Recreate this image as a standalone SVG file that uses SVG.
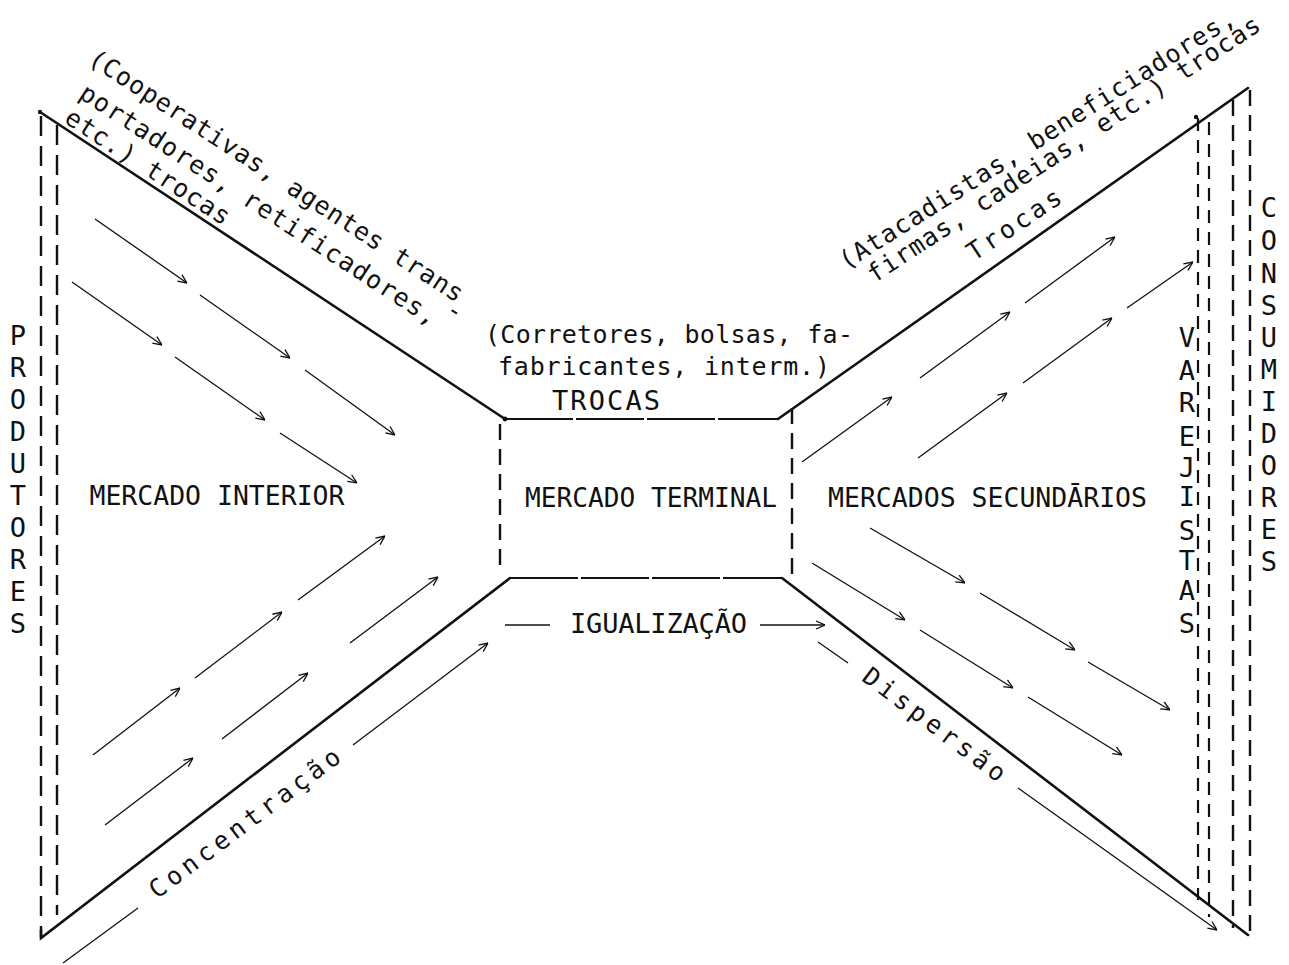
<svg xmlns="http://www.w3.org/2000/svg" width="1289" height="965" viewBox="0 0 1289 965">
<style>
  .t{font-family:"DejaVu Sans Mono","Liberation Mono",monospace;fill:#111}
  .cap{font-size:27px}
  .low{font-size:25px}
  .edge{stroke:#111;stroke-width:2.6;fill:none;stroke-linecap:round}
  .dash{stroke:#111;stroke-width:2.4;fill:none;stroke-dasharray:20 10}
  .dash2{stroke:#111;stroke-width:2.2;fill:none;stroke-dasharray:13 9}
  .boxline{stroke:#111;stroke-width:2.2;fill:none;stroke-dasharray:68 3}
  .flow{stroke:#111;stroke-width:1.3;fill:none;marker-end:url(#ah)}
  .plain{stroke:#111;stroke-width:1.3;fill:none}
</style>
<defs>
  <marker id="ah" viewBox="0 0 10 10" refX="10" refY="5" markerWidth="10" markerHeight="10" markerUnits="userSpaceOnUse" orient="auto">
    <path d="M1,1 L10,5 L1,9" fill="none" stroke="#111" stroke-width="1.3"/>
  </marker>
</defs>
<rect width="1289" height="965" fill="#fff"/>

<!-- producers column -->
<g id="produtores">
  <line class="dash" x1="41" y1="116" x2="41" y2="937"/>
  <line class="dash" x1="57" y1="125" x2="57" y2="915"/>
  <circle cx="40" cy="112" r="2.2" fill="#111"/>
  <text class="t cap" text-anchor="middle" x="18 18 18 18 18 18 18 18 18 18" y="345 377 409 441 473 505 537 569 601 633">PRODUTORES</text>
</g>

<!-- interior market (left funnel) -->
<g id="mercado-interior">
  <line class="edge" x1="40" y1="112" x2="505" y2="419"/>
  <polyline class="edge" points="41,930 41,938 510,578"/>
  <text class="t cap" x="217" y="505" text-anchor="middle" textLength="255" lengthAdjust="spacingAndGlyphs">MERCADO INTERIOR</text>
  <g transform="translate(275.5 177) rotate(33)">
    <text class="t low" x="0" y="7" text-anchor="middle" textLength="441" lengthAdjust="spacing">(Cooperativas, agentes trans</text>
  </g>
  <g transform="translate(258 206) rotate(33)">
    <text class="t low" x="0" y="7" text-anchor="middle" textLength="421" lengthAdjust="spacing">portadores, retificadores,</text>
  </g>
  <g transform="translate(455 311) rotate(33)">
    <text class="t low" x="0" y="8" text-anchor="middle">-</text>
  </g>
  <g transform="translate(147 168) rotate(33)">
    <text class="t low" x="0" y="7" text-anchor="middle" textLength="191" lengthAdjust="spacing">etc.) trocas</text>
  </g>
  <g transform="translate(245 823.5) rotate(-36.8)">
    <text class="t low" x="0" y="8" text-anchor="middle" textLength="232" lengthAdjust="spacing">Concentração</text>
  </g>
</g>

<!-- terminal market (centre box) -->
<g id="mercado-terminal">
  <line class="boxline" x1="505" y1="419" x2="778" y2="419"/>
  <line class="boxline" x1="510" y1="578" x2="782" y2="578"/>
  <line class="dash" x1="500" y1="424" x2="500" y2="574" style="stroke-dasharray:16 9"/>
  <line class="dash" x1="792" y1="408" x2="792" y2="580" style="stroke-dasharray:16 9"/>
  <circle cx="505" cy="419" r="2.4" fill="#111"/>
  <text class="t cap" x="651" y="507" text-anchor="middle" textLength="252" lengthAdjust="spacingAndGlyphs">MERCADO TERMINAL</text>
  <text class="t low" x="669" y="343" text-anchor="middle" textLength="368" lengthAdjust="spacing">(Corretores, bolsas, fa-</text>
  <text class="t low" x="664" y="375" text-anchor="middle" textLength="332" lengthAdjust="spacing">fabricantes, interm.)</text>
  <text class="t cap" x="606" y="410" text-anchor="middle" textLength="108" lengthAdjust="spacing">TROCAS</text>
  <text class="t cap" x="658.5" y="633" text-anchor="middle" textLength="177" lengthAdjust="spacing">IGUALIZAÇÃO</text>
</g>

<!-- secondary markets (right funnel) -->
<g id="mercados-secundarios">
  <line class="edge" x1="778" y1="419" x2="1248" y2="88"/>
  <line class="edge" x1="782" y1="578" x2="1248" y2="935"/>
  <text class="t cap" x="987.5" y="507" text-anchor="middle" textLength="319" lengthAdjust="spacingAndGlyphs">MERCADOS SECUNDĀRIOS</text>
  <g transform="translate(1037.7 140.7) rotate(-32.3)">
    <text class="t low" x="0" y="7" text-anchor="middle" textLength="463" lengthAdjust="spacing">(Atacadistas, beneficiadores,</text>
  </g>
  <g transform="translate(1064.5 150.5) rotate(-33.2)">
    <text class="t low" x="0" y="7" text-anchor="middle" textLength="464" lengthAdjust="spacing">firmas, cadeias, etc.) trocas</text>
  </g>
  <g transform="translate(1014.5 225) rotate(-33.7)">
    <text class="t low" x="0" y="8" text-anchor="middle" textLength="108" lengthAdjust="spacing">Trocas</text>
  </g>
  <g transform="translate(934 725) rotate(37)">
    <text class="t low" x="0" y="8" text-anchor="middle" textLength="172" lengthAdjust="spacing">Dispersão</text>
  </g>
</g>

<!-- retailers column -->
<g id="varejistas">
  <line class="dash2" x1="1198" y1="118" x2="1198" y2="900"/>
  <line class="dash2" x1="1209" y1="122" x2="1209" y2="917"/>
  <circle cx="1196" cy="117" r="2.2" fill="#111"/>
  <text class="t cap" text-anchor="middle" x="1187 1187 1187 1187 1187 1187 1187 1187 1187 1187" y="347 380 412 446 477 506 540 570 600 633">VAREJISTAS</text>
</g>

<!-- consumers column -->
<g id="consumidores">
  <line class="dash" x1="1233" y1="100" x2="1233" y2="928" style="stroke-dasharray:16 9"/>
  <line class="dash" x1="1250" y1="90" x2="1250" y2="932" style="stroke-dasharray:16 9"/>
  <text class="t cap" text-anchor="middle" x="1269 1269 1269 1269 1269 1269 1269 1269 1269 1269 1269 1269" y="217 250 283 315 347 379 411 443 475 507 539 571">CONSUMIDORES</text>
</g>

<!-- flow connectors -->
<g id="connectors">
  <!-- concentration: down-right rows -->
  <line class="flow" x1="95" y1="219" x2="187" y2="283"/>
  <line class="flow" x1="200" y1="295" x2="290" y2="358"/>
  <line class="flow" x1="305" y1="370" x2="395" y2="435"/>
  <line class="flow" x1="72" y1="282" x2="162" y2="345"/>
  <line class="flow" x1="175" y1="357" x2="265" y2="420"/>
  <line class="flow" x1="280" y1="433" x2="357" y2="483"/>
  <!-- concentration: up-right rows -->
  <line class="flow" x1="93" y1="755" x2="180" y2="688"/>
  <line class="flow" x1="195" y1="678" x2="282" y2="612"/>
  <line class="flow" x1="298" y1="600" x2="385" y2="536"/>
  <line class="flow" x1="105" y1="825" x2="193" y2="758"/>
  <line class="flow" x1="222" y1="739" x2="308" y2="673"/>
  <line class="flow" x1="350" y1="643" x2="438" y2="577"/>
  <line class="plain" x1="63" y1="963" x2="138" y2="908"/>
  <line class="flow" x1="353" y1="745" x2="488" y2="643"/>
  <!-- equalisation -->
  <line class="plain" x1="505" y1="625" x2="550" y2="625"/>
  <line class="flow" x1="760" y1="625" x2="825" y2="625"/>
  <!-- dispersion: up-right rows -->
  <line class="flow" x1="802" y1="462" x2="892" y2="397"/>
  <line class="flow" x1="920" y1="378" x2="1010" y2="312"/>
  <line class="flow" x1="1025" y1="303" x2="1115" y2="237"/>
  <line class="flow" x1="918" y1="458" x2="1007" y2="393"/>
  <line class="flow" x1="1023" y1="383" x2="1112" y2="318"/>
  <line class="flow" x1="1127" y1="308" x2="1193" y2="262"/>
  <!-- dispersion: down-right rows -->
  <line class="flow" x1="812" y1="563" x2="905" y2="620"/>
  <line class="flow" x1="920" y1="630" x2="1013" y2="688"/>
  <line class="flow" x1="1028" y1="697" x2="1122" y2="755"/>
  <line class="flow" x1="870" y1="528" x2="965" y2="583"/>
  <line class="flow" x1="980" y1="593" x2="1075" y2="650"/>
  <line class="flow" x1="1088" y1="662" x2="1170" y2="710"/>
  <line class="plain" x1="818" y1="642" x2="848" y2="663"/>
  <line class="flow" x1="1018" y1="788" x2="1217" y2="930"/>
</g>
</svg>
